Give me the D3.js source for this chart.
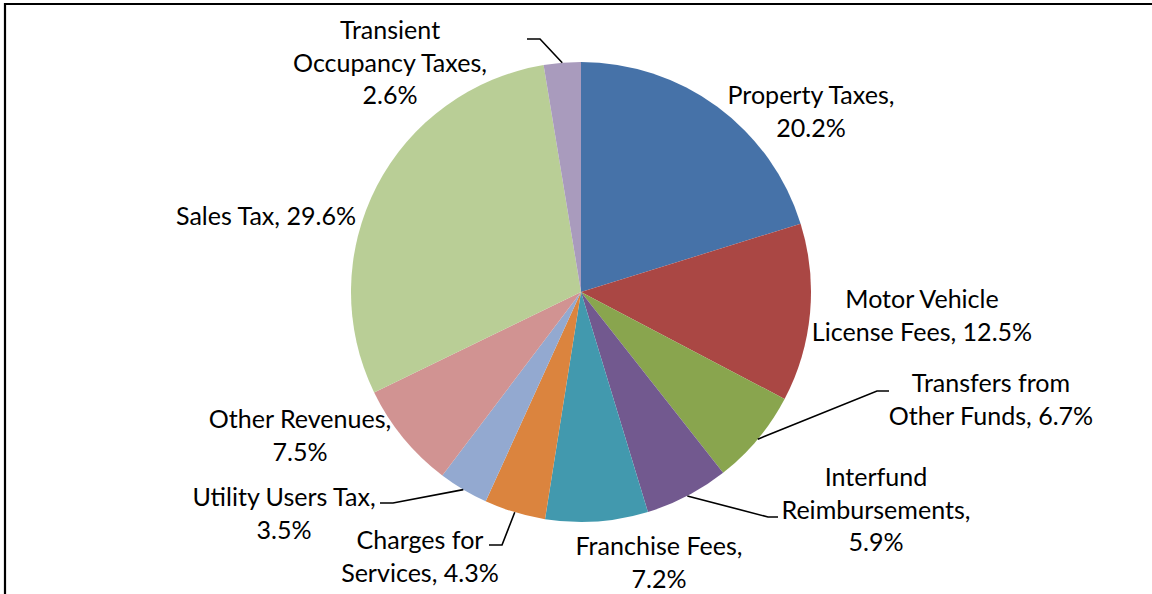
<!DOCTYPE html>
<html>
<head>
<meta charset="utf-8">
<script src="https://cdn.jsdelivr.net/npm/d3@7"></script>
<style>
  html, body { margin: 0; padding: 0; background: #fff; }
  svg { display: block; }
  text { font-family: Lato, "Open Sans", sans-serif; fill: #000; }
</style>
</head>
<body>
<svg id="chart" width="1152" height="594"></svg>
<script>
// ---- Data ----
const categories = [
  "Property Taxes", "Motor Vehicle License Fees", "Transfers from Other Funds",
  "Interfund Reimbursements", "Franchise Fees", "Charges for Services",
  "Utility Users Tax", "Other Revenues", "Sales Tax", "Transient Occupancy Taxes"
];
const values = [20.2, 12.5, 6.7, 5.9, 7.2, 4.3, 3.5, 7.5, 29.6, 2.6];
const colors = ["#4672A8", "#AA4744", "#89A54E", "#72598F", "#4299AE",
                "#DB843E", "#93A9D0", "#D19392", "#B9CE96", "#A99BBD"];
const labelLines = [
  ["Property Taxes,", "20.2%"],
  ["Motor Vehicle", "License Fees, 12.5%"],
  ["Transfers from", "Other Funds, 6.7%"],
  ["Interfund", "Reimbursements,", "5.9%"],
  ["Franchise Fees,", "7.2%"],
  ["Charges for", "Services, 4.3%"],
  ["Utility Users Tax,", "3.5%"],
  ["Other Revenues,", "7.5%"],
  ["Sales Tax, 29.6%"],
  ["Transient", "Occupancy Taxes,", "2.6%"]
];

// ---- Layout ----
const cx = 581, cy = 292, R = 230;
const lineH = 32.6;
// label center x, first line center y
const labelPos = [
  [811, 95], [922, 299], [991, 383], [876, 477], [659, 546],
  [420, 540], [284, 497], [300, 419], [266, 216], [390, 30]
];
// leader lines: elbow then end, null if none
const leaders = [
  null, null, [[877, 391], [889, 391]], [[768, 517], [778, 517]], null,
  [[502, 545], [489, 545]], [[393, 503], [380, 503]], null, null, [[540, 39], [527, 39]]
];

const svg = d3.select("#chart");

// Frame
svg.append("path")
  .attr("d", "M5,594 L5,4 L1152,4")
  .attr("fill", "none").attr("stroke", "#000").attr("stroke-width", 2.2);

// Fit font size to match reference text width
const probe = svg.append("text").attr("font-size", 100).text("Reimbursements,");
const w100 = probe.node().getComputedTextLength();
probe.remove();
const fontSize = Math.min(30, 100 * 189 / w100);

const pie = d3.pie().sort(null).value(d => d).startAngle(0).endAngle(2 * Math.PI);
const arcs = pie(values);
const arc = d3.arc().innerRadius(0).outerRadius(R);

const g = svg.append("g").attr("transform", `translate(${cx},${cy})`);
g.selectAll("path.slice").data(arcs).enter().append("path")
  .attr("class", "slice")
  .attr("d", arc)
  .attr("fill", (d, i) => colors[i]);

// Leader lines
arcs.forEach((a, i) => {
  const L = leaders[i];
  if (!L) return;
  const mid = (a.startAngle + a.endAngle) / 2;
  const sx = cx + R * Math.sin(mid), sy = cy - R * Math.cos(mid);
  svg.append("polyline")
    .attr("points", [[sx, sy], L[0], L[1]].map(p => p.join(",")).join(" "))
    .attr("fill", "none").attr("stroke", "#000").attr("stroke-width", 1.6);
});

// Labels
labelLines.forEach((lines, i) => {
  const [x, y0] = labelPos[i];
  const t = svg.append("text")
    .attr("text-anchor", "middle")
    .attr("font-size", fontSize);
  lines.forEach((ln, k) => {
    t.append("tspan").attr("x", x).attr("y", y0 + k * lineH).attr("dy", "0.36em").text(ln);
  });
});
</script>
</body>
</html>
